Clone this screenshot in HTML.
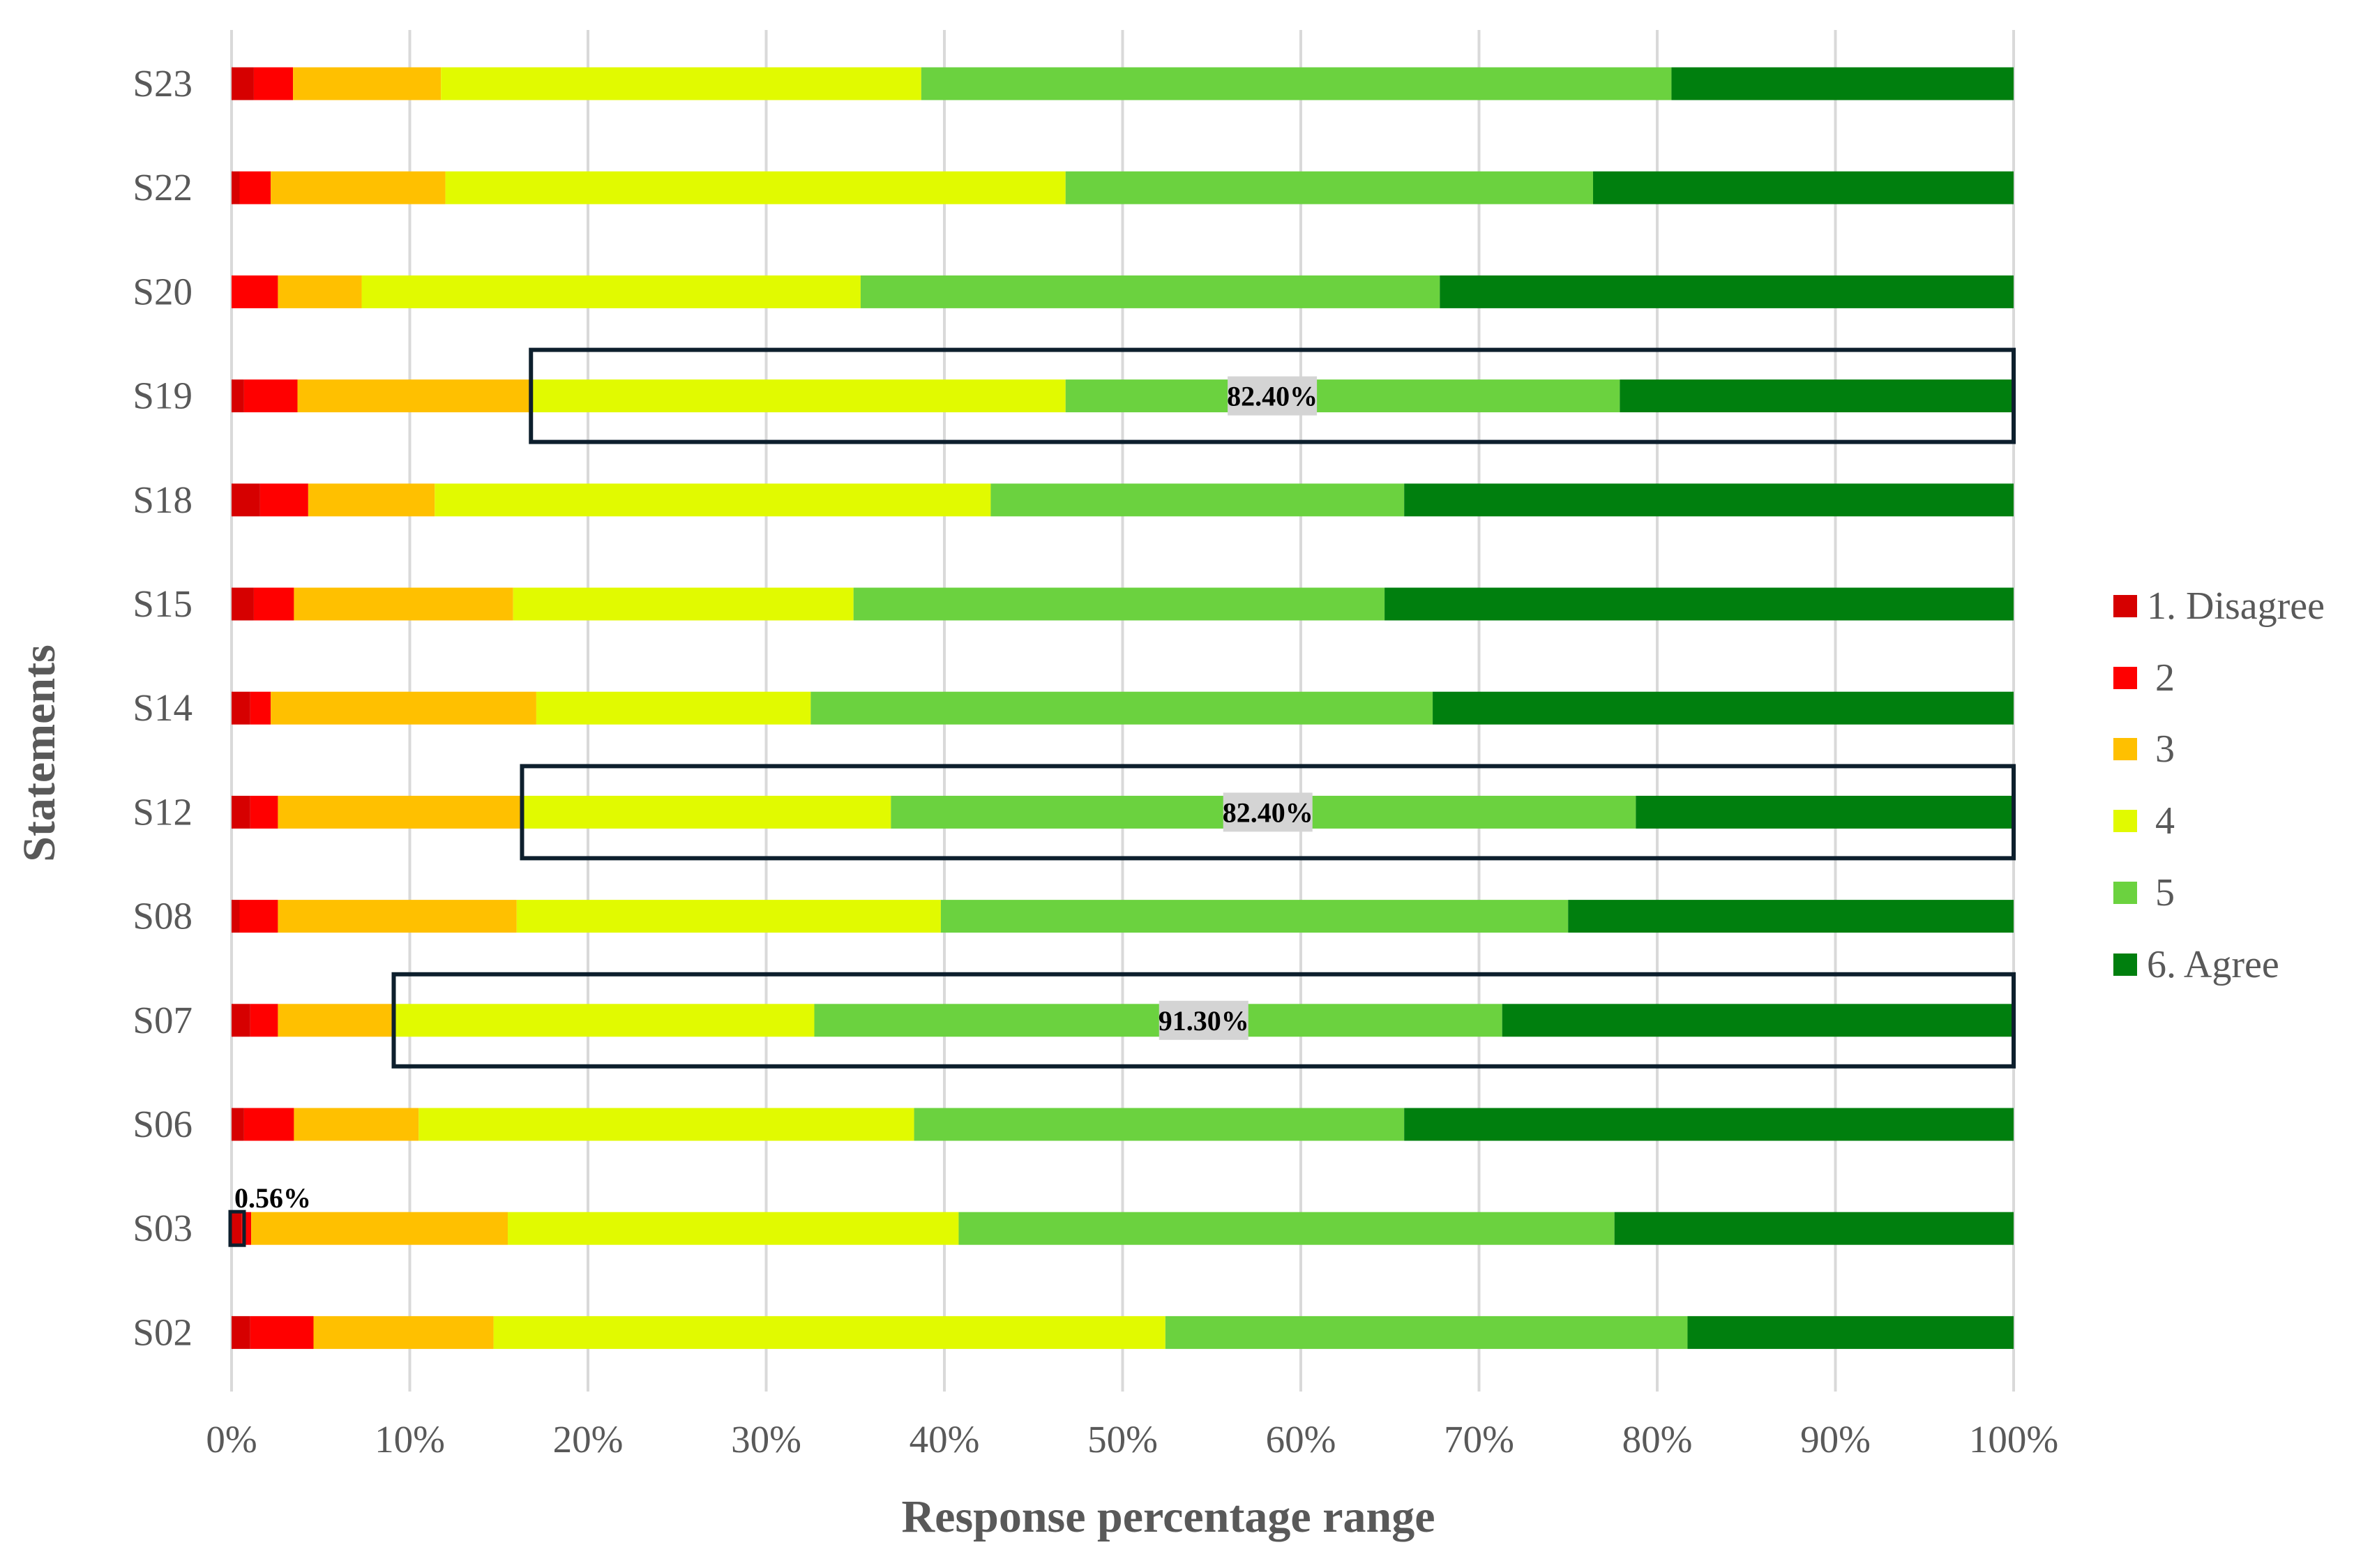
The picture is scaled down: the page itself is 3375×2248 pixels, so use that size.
<!DOCTYPE html>
<html><head><meta charset="utf-8"><style>
html,body{margin:0;padding:0;background:#fff}
svg{display:block;font-family:"Liberation Serif",serif}
</style></head><body>
<svg id="chart" width="3375" height="2248" viewBox="0 0 3375 2248" xmlns="http://www.w3.org/2000/svg"></svg>
<script>
const categories=["S23","S22","S20","S19","S18","S15","S14","S12","S08","S07","S06","S03","S02"];
const seriesNames=["1. Disagree","2","3","4","5","6. Agree"];
const seriesColors=["#d60000","#ff0000","#ffc000","#e1fa00","#6bd23f","#007f0e"];
// widths (%) of series 1..5 per category; series 6 is the remainder
const s1=[1.25,0.45,0,0.7,1.6,1.25,1.05,1.05,0.45,1.05,0.7,0.56,1.05];
const s2=[2.2,1.75,2.6,3.0,2.7,2.25,1.15,1.55,2.15,1.55,2.8,0.54,3.55];
const s3=[8.3,9.8,4.7,13.0,7.1,12.3,14.9,13.7,13.4,6.5,7.0,14.4,10.1];
const s4=[26.95,34.8,28.0,30.1,31.2,19.1,15.4,20.7,23.8,23.6,27.8,25.3,37.7];
const s5=[42.1,29.6,32.5,31.1,23.2,29.8,34.9,41.8,35.2,38.6,27.5,36.8,29.3];
const xTicks=[0,10,20,30,40,50,60,70,80,90,100];
const highlights=[{cat:"S19",from:16.8,label:"82.40%"},{cat:"S12",from:16.3,label:"82.40%"},{cat:"S07",from:9.1,label:"91.30%"}];

const NS="http://www.w3.org/2000/svg";
const svg=document.getElementById('chart');
const X0=332,X1=2887,Y0=120,DY=149.2,BH=47;
const xs=v=>X0+(X1-X0)*v/100;
const ys=i=>Y0+i*DY;
function mk(tag,attrs,parent){const e=document.createElementNS(NS,tag);for(const k in attrs)e.setAttribute(k,attrs[k]);(parent||svg).appendChild(e);return e;}

xTicks.forEach(t=>{
  const l=mk('line',{x1:xs(t),x2:xs(t),y1:43,y2:1995,stroke:'#d9d9d9','stroke-width':4});
  
  
  const tx=mk('text',{x:xs(t),y:2082,'text-anchor':'middle','font-size':55,fill:'#595959'});
  tx.textContent=t+'%';
  
  
});

const series=[s1,s2,s3,s4,s5];
categories.forEach((c,i)=>{
  let acc=0;
  const yc=ys(i);
  for(let k=0;k<6;k++){
    let w = k<5 ? series[k][i] : 100-acc;
    if(w>0){
      const r=mk('rect',{x:xs(acc),y:yc-BH/2,width:xs(acc+w)-xs(acc),height:BH,fill:seriesColors[k]});
      
      
    }
    acc+=w;
  }
  const lb=mk('text',{x:276,y:yc+18,'text-anchor':'end','font-size':55,fill:'#595959'});
  lb.textContent=c;
  
  
});

highlights.forEach(h=>{
  const i=categories.indexOf(h.cat);
  const yc=ys(i);
  const b=mk('rect',{x:xs(h.from),y:yc-66,width:X1-xs(h.from),height:132,fill:'none',stroke:'#0d1f2d','stroke-width':6});
  
  
  const cx=(xs(h.from)+X1)/2;
  const bg=mk('rect',{x:cx-64,y:yc-28,width:128,height:56,fill:'#d4d4d4'});
  
  
  const t=mk('text',{x:cx,y:yc+14,'text-anchor':'middle','font-size':40,'font-weight':'bold',fill:'#000'});
  t.textContent=h.label;
  
  
});
{
  const i=categories.indexOf('S03');const yc=ys(i);
  const b=mk('rect',{x:xs(0)-2,y:yc-24,width:20,height:48,fill:'none',stroke:'#0d1f2d','stroke-width':5});
  
  
  const t=mk('text',{x:336,y:yc-30,'font-size':40,'font-weight':'bold',fill:'#000'});
  t.textContent='0.56%';
  
  
}

const xt=mk('text',{x:1675,y:2196,'text-anchor':'middle','font-size':66,'font-weight':'bold',fill:'#595959'});
xt.textContent='Response percentage range';


const yt=mk('text',{x:0,y:0,'text-anchor':'middle','font-size':66,'font-weight':'bold',fill:'#595959',transform:'translate(78,1080) rotate(-90)'});
yt.textContent='Statements';



const legY=[869,972,1074,1177,1280,1383];
seriesNames.forEach((n,k)=>{
  const g=mk('g',{});
  
  
  mk('rect',{x:3030,y:legY[k]-16,width:34,height:32,fill:seriesColors[k]},g);
  const t=mk('text',{x:k===0||k===5?3078:3090,y:legY[k]+18,'font-size':56,fill:'#595959'},g);
  t.textContent=n;
});
</script>
</body></html>
